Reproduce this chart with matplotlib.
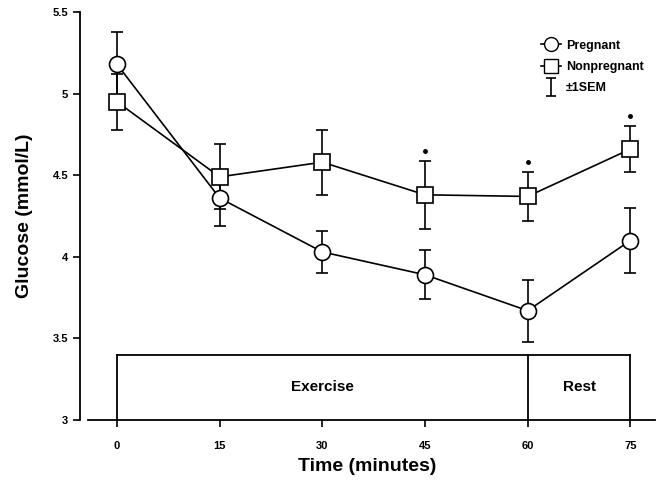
import matplotlib.pyplot as plt
from matplotlib.lines import Line2D
from matplotlib.path import Path
import numpy as np

plt.rcParams['font.family'] = ['Liberation Sans', 'DejaVu Sans']

# data
time = [0, 15, 30, 45, 60, 75]
pregnant = [5.18, 4.36, 4.03, 3.89, 3.67, 4.10]
pregnant_sem = [0.20, 0.17, 0.13, 0.15, 0.19, 0.20]
nonpregnant = [4.95, 4.49, 4.58, 4.38, 4.37, 4.66]
nonpregnant_sem = [0.17, 0.20, 0.20, 0.21, 0.15, 0.14]
star_times = [45, 60, 75]
star_levels = [4.65, 4.58, 4.86]
phases = ['Exercise', 'Rest']
phase_edges = [0, 60, 75]
box_top = 3.4

fig = plt.figure(figsize=(6.59, 4.83), dpi=100)
ax = fig.add_axes([0.1214, 0.1304, 0.8725, 0.8447])

# error bars first so markers sit on top
ax.errorbar(time, pregnant, yerr=pregnant_sem, fmt='none', ecolor='black',
            elinewidth=1.2, capsize=4, capthick=1.2, zorder=2)
ax.errorbar(time, nonpregnant, yerr=nonpregnant_sem, fmt='none', ecolor='black',
            elinewidth=1.2, capsize=4, capthick=1.2, zorder=2)
ax.plot(time, pregnant, '-o', color='black', lw=1.2, ms=11.5,
        mfc='white', mec='black', mew=1.2, zorder=3)
ax.plot(time, nonpregnant, '-s', color='black', lw=1.2, ms=11.5,
        mfc='white', mec='black', mew=1.2, zorder=3)

# significance marks
ax.plot(star_times, star_levels, 'o', color='black', ms=2.5, zorder=3)

# exercise / rest box
ax.plot([phase_edges[0], phase_edges[-1]], [box_top, box_top], color='black', lw=1.3)
for e in phase_edges:
    ax.plot([e, e], [3.0, box_top], color='black', lw=1.3)
for i, name in enumerate(phases):
    mid = (phase_edges[i] + phase_edges[i + 1]) / 2
    ax.text(mid, 3.2, name, ha='center', va='center', fontsize=11, fontweight='bold')

ax.set_xlim(-5.4, 78.6)
ax.set_ylim(3.0, 5.5)
ax.set_xticks(time)
ax.set_xticklabels([str(t) for t in time])
ax.set_yticks([3, 3.5, 4, 4.5, 5, 5.5])
ax.set_yticklabels(['3', '3.5', '4', '4.5', '5', '5.5'])
ax.tick_params(axis='both', labelsize=8, width=1.2, length=5)
ax.tick_params(axis='x', pad=10)
for lab in ax.get_xticklabels() + ax.get_yticklabels():
    lab.set_fontweight('bold')
ax.spines['top'].set_visible(False)
ax.spines['right'].set_visible(False)
ax.spines['left'].set_linewidth(1.3)
ax.spines['bottom'].set_linewidth(1.3)
ax.spines['bottom'].set_bounds(-4.2, 78.6)

ax.set_xlabel('Time (minutes)', fontsize=14, fontweight='bold', labelpad=5)
ax.set_ylabel('Glucose (mmol/L)', fontsize=14, fontweight='bold', labelpad=14)

# legend
ibar = Path([(-0.5, 1), (0.5, 1), (0, 1), (0, -1), (-0.5, -1), (0.5, -1)],
            [Path.MOVETO, Path.LINETO, Path.MOVETO, Path.LINETO, Path.MOVETO, Path.LINETO])
handles = [
    Line2D([], [], color='black', lw=1.2, marker='o', ms=10, mfc='white', mec='black'),
    Line2D([], [], color='black', lw=1.2, marker='s', ms=10, mfc='white', mec='black'),
    Line2D([], [], linestyle='None', marker=ibar, ms=13, color='black', mew=1.2),
]
ax.legend(handles, ['Pregnant', 'Nonpregnant', '\u00b11SEM'], loc='upper right',
          bbox_to_anchor=(1.0, 0.96), frameon=False, handlelength=1.6,
          handletextpad=0.4, labelspacing=0.75,
          prop={'size': 9, 'weight': 'bold'})

fig.savefig('out.png', dpi=100)
